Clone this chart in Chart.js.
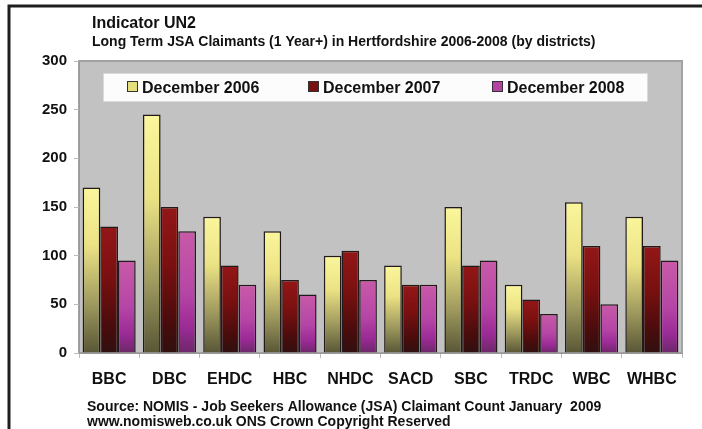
<!DOCTYPE html>
<html>
<head>
<meta charset="utf-8">
<script src="https://cdn.jsdelivr.net/npm/chart.js@4.4.1/dist/chart.umd.min.js"></script>
<style>
  html, body { margin: 0; padding: 0; background: #fff; overflow: hidden; }
</style>
</head>
<body>
<canvas id="myChart" width="702" height="429"></canvas>
<script>
const districts = ['BBC', 'DBC', 'EHDC', 'HBC', 'NHDC', 'SACD', 'SBC', 'TRDC', 'WBC', 'WHBC'];
const dec2006 = [170, 245, 140, 125, 100, 90, 150, 70, 155, 140];
const dec2007 = [130, 150, 90, 75, 105, 70, 90, 55, 110, 110];
const dec2008 = [95, 125, 70, 60, 75, 70, 95, 40, 50, 95];
const seriesLabels = ['December 2006', 'December 2007', 'December 2008'];
const yTicks = [0, 50, 100, 150, 200, 250, 300];

const FONT = "'Liberation Sans', Arial, sans-serif";

const stops2006 = [[0, '#fbf69c'], [0.35, '#ebe284'], [0.7, '#9f9a5e'], [1, '#585636']];
const stops2007 = [[0, '#931717'], [0.4, '#7a1010'], [0.8, '#480c0c'], [1, '#301010']];
const stops2008 = [[0, '#c85aa8'], [0.5, '#b646a6'], [0.8, '#9a2a95'], [1, '#6c2868']];
const swatches = ['#e6e07a', '#7a1010', '#b443a4'];

// vertical gradient for each bar, from its top down to zero
function barGradient(stops) {
  return (c) => {
    const chart = c.chart;
    if (!chart.chartArea || c.type !== 'data') return stops[1][1];
    const y = chart.scales.y;
    const top = y.getPixelForValue(c.raw);
    const base = y.getPixelForValue(0);
    if (!(base > top)) return stops[1][1];
    const g = chart.ctx.createLinearGradient(0, top, 0, base);
    stops.forEach(s => g.addColorStop(s[0], s[1]));
    return g;
  };
}

const decoration = {
  id: 'decoration',
  beforeDraw(chart) {
    const { ctx, chartArea: a } = chart;
    ctx.save();
    ctx.fillStyle = '#fff';
    ctx.fillRect(0, 0, chart.width, chart.height);
    // frame
    ctx.strokeStyle = '#1e1e1e';
    ctx.lineWidth = 3;
    ctx.beginPath();
    ctx.moveTo(702, 6);
    ctx.lineTo(9, 6);
    ctx.lineTo(9, 429);
    ctx.stroke();
    // plot area
    ctx.fillStyle = '#c2c2c2';
    ctx.fillRect(a.left, a.top, a.right - a.left, a.bottom - a.top);
    ctx.strokeStyle = '#a2a2a2';
    ctx.lineWidth = 2;
    ctx.strokeRect(a.left, a.top, a.right - a.left, a.bottom - a.top);
    // titles and source
    ctx.fillStyle = '#111';
    ctx.textAlign = 'left';
    ctx.textBaseline = 'alphabetic';
    ctx.font = 'bold 16px ' + FONT;
    ctx.fillText('Indicator UN2', 92, 28);
    ctx.font = 'bold 14px ' + FONT;
    ctx.fillText('Long Term JSA Claimants (1 Year+) in Hertfordshire 2006-2008 (by districts)', 92, 46);
    ctx.fillText('Source: NOMIS - Job Seekers Allowance (JSA) Claimant Count January  2009', 87, 411);
    ctx.fillText('www.nomisweb.co.uk ONS Crown Copyright Reserved', 87, 426);
    ctx.restore();
  },
  afterDatasetsDraw(chart) {
    const { ctx } = chart;
    ctx.save();
    ctx.fillStyle = '#fcfcfc';
    ctx.fillRect(103, 73, 544, 28);
    ctx.strokeStyle = '#dadada';
    ctx.lineWidth = 1;
    ctx.strokeRect(103.5, 73.5, 544, 28);
    const xs = [127, 308, 492];
    ctx.font = 'bold 16px ' + FONT;
    ctx.textBaseline = 'alphabetic';
    chart.data.datasets.forEach((ds, i) => {
      ctx.fillStyle = swatches[i];
      ctx.fillRect(xs[i], 81, 11, 11);
      ctx.strokeStyle = '#333';
      ctx.strokeRect(xs[i] + 0.5, 81.5, 10, 10);
      ctx.fillStyle = '#111';
      ctx.fillText(ds.label, xs[i] + 15, 93);
    });
    ctx.restore();
  }
};

const ctx = document.getElementById('myChart').getContext('2d');

const myChart = new Chart(ctx, {
  type: 'bar',
  data: {
    labels: districts,
    datasets: [
      { label: seriesLabels[0], data: dec2006, backgroundColor: barGradient(stops2006) },
      { label: seriesLabels[1], data: dec2007, backgroundColor: barGradient(stops2007) },
      { label: seriesLabels[2], data: dec2008, backgroundColor: barGradient(stops2008) }
    ]
  },
  options: {
    responsive: false,
    animation: false,
    layout: { padding: { left: 0, top: 61, right: 20, bottom: 0 } },
    datasets: {
      bar: {
        borderColor: '#221a1a',
        borderWidth: 1.5,
        barPercentage: 1,
        categoryPercentage: 0.88
      }
    },
    scales: {
      x: {
        grid: { display: true, drawOnChartArea: false, offset: true, tickLength: 5, color: '#bbb' },
        border: { display: true, color: '#999' },
        ticks: { color: '#111', font: { family: FONT, size: 16, weight: 'bold' }, padding: 12 },
        afterFit: (s) => { s.height = 76; }
      },
      y: {
        min: 0,
        max: 300,
        afterBuildTicks: (s) => { s.ticks = yTicks.map(v => ({ value: v })); },
        grid: { display: true, drawOnChartArea: false, tickLength: 5, color: '#bbb' },
        border: { display: true, color: '#999' },
        ticks: { color: '#111', font: { family: FONT, size: 15, weight: 'bold' }, padding: 7 },
        afterFit: (s) => { s.width = 79; }
      }
    },
    plugins: {
      legend: { display: false },
      title: { display: false },
      tooltip: { enabled: false }
    }
  },
  plugins: [decoration]
});
</script>
</body>
</html>
